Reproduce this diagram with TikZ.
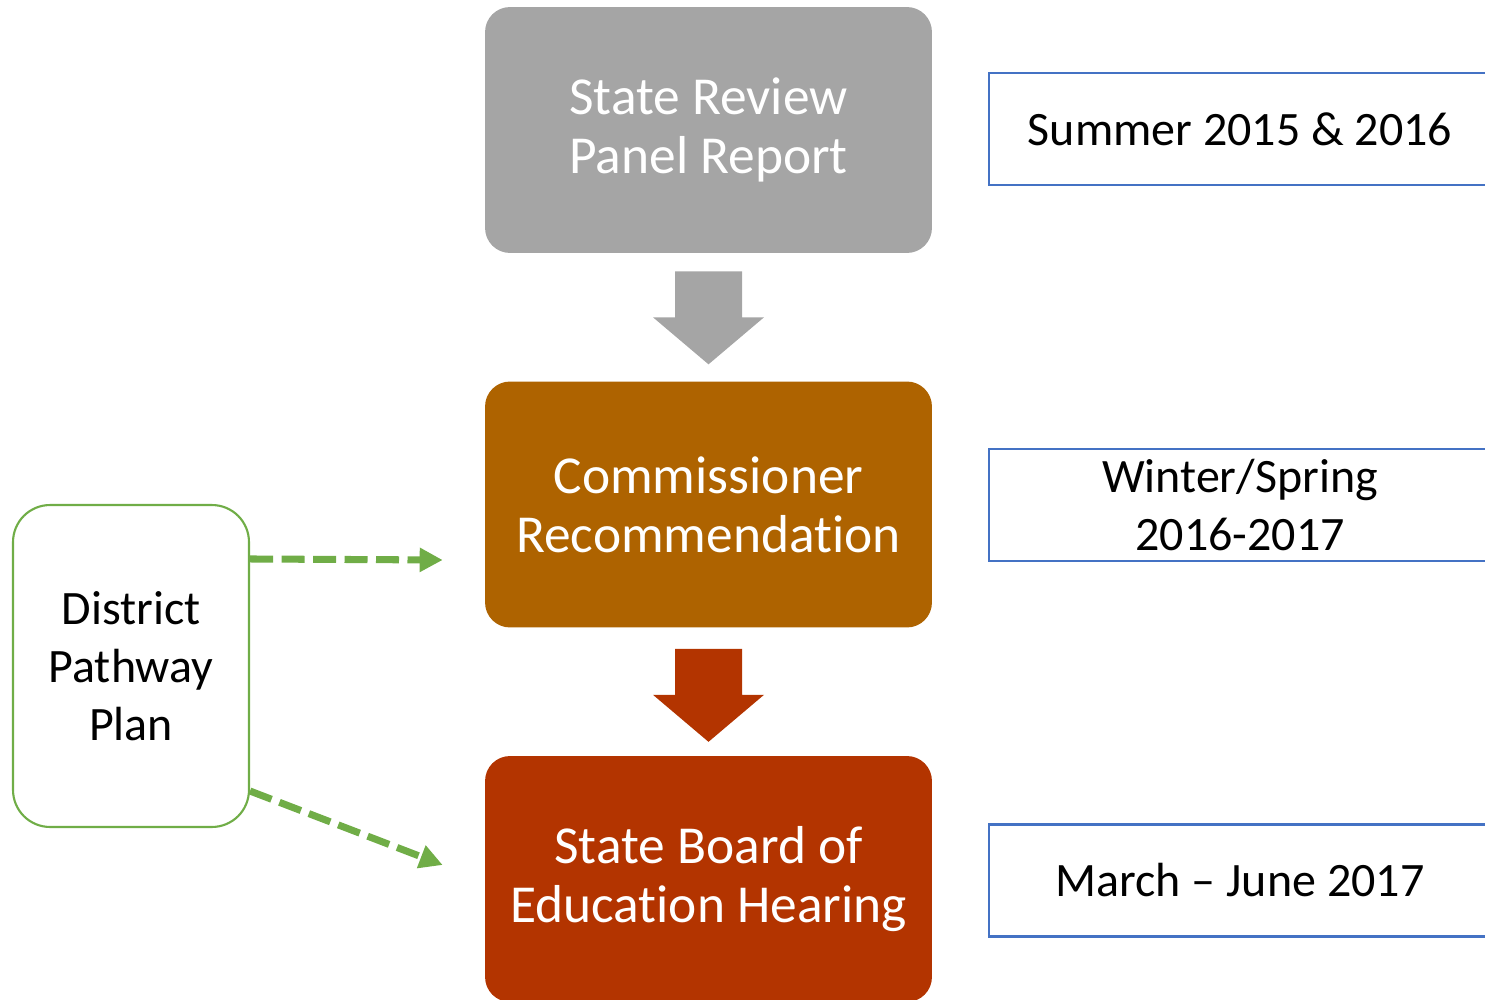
\documentclass[tikz,border=0pt]{standalone}
\usepackage{fontspec}
\setmainfont{Carlito}[Ligatures={TeX,NoCommon}]
\usetikzlibrary{arrows.meta, calc, positioning}
\definecolor{stepGray}{HTML}{A5A5A5}
\definecolor{stepOrange}{HTML}{AE6300}
\definecolor{stepRed}{HTML}{B33400}
\definecolor{dateBlue}{HTML}{4472C4}
\definecolor{planGreen}{HTML}{70AD47}
\newcommand{\bigText}{\fontsize{27.3pt}{33pt}\selectfont}
\newcommand{\stepText}{\fontsize{30.4pt}{33.5pt}\selectfont}
\tikzset{
    stepBox/.style={rectangle, rounded corners=0.5cm, minimum width=8.94cm, minimum height=4.92cm, inner sep=0pt, text=white, align=center, font=\stepText},
    dateBox/.style={rectangle, draw=dateBlue, line width=1.2pt, fill=white, minimum width=10.04cm, minimum height=2.24cm, inner sep=0pt, align=center, font=\bigText},
    planBox/.style={rectangle, draw=planGreen, line width=1.2pt, rounded corners=0.74cm, minimum width=4.72cm, minimum height=6.44cm, inner sep=0pt, align=center, font=\bigText},
    planLink/.style={draw=planGreen, line width=4pt, dash pattern=on 0.46cm off 0.17cm, -{Triangle[length=0.46cm, width=0.46cm]}},
}
\newcommand{\drawBlock}[3]{
    % block arrow below node #1, gap #3
    \coordinate (top) at ($(#1.south)+(0,#3)$);
    \fill[#2] ($(top)+(-33.5,0)$) -- ($(top)+(33.5,0)$) -- ($(top)+(33.5,46)$) -- ($(top)+(55.5,46)$)
        -- ($(top)+(0,93)$) -- ($(top)+(-55.5,46)$) -- ($(top)+(-33.5,46)$) -- cycle;
}
\begin{document}
\begin{tikzpicture}[x=0.02cm, y=-0.02cm]
    \useasboundingbox (0,0) rectangle (1485,1000);

    \node[stepBox, fill=stepGray] (panel) at (708.5,130) {State Review\\Panel Report};
    \node[stepBox, fill=stepOrange] (commish) at (708.5,504.5) {Commissioner\\Recommendation};
    \node[stepBox, fill=stepRed] (board) at (708.5,879) {State Board of\\Education Hearing};

    \node[dateBox] (summer) at (1240,129) {Summer 2015 \& 2016};
    \node[dateBox] (winter) at (1240,505) {Winter/Spring\\2016-2017};
    \node[dateBox] (march) at (1240,880.5) {March – June 2017};

    \node[planBox] (plan) at (131,666) {District\\Pathway\\Plan};

    \drawBlock{panel}{stepGray}{18}
    \drawBlock{commish}{stepRed}{21}

    \draw[planLink] ($(plan.north east)+(0,55)$) -- ($(commish.west)+(-42,55.5)$);
    \draw[planLink] ($(plan.south east)+(0,-37)$) -- ($(board.west)+(-42,-14)$);

\end{tikzpicture}
\end{document}
